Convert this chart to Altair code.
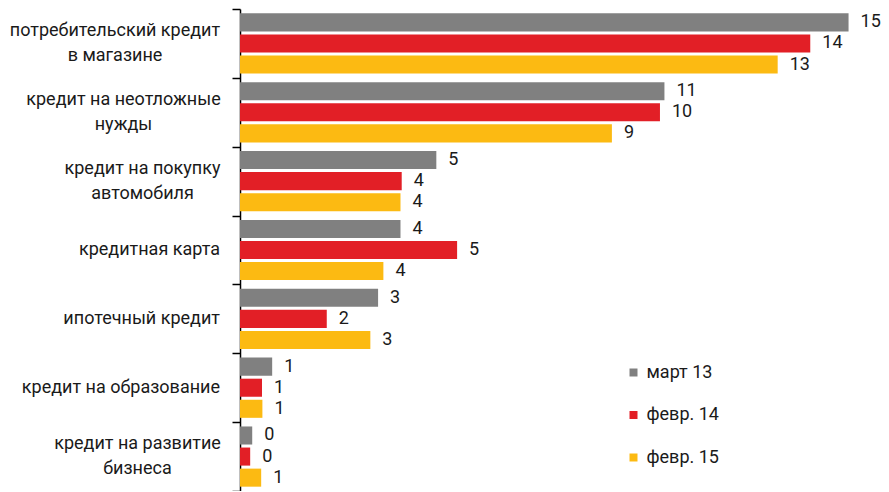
import altair as alt
import pandas as pd

categories = [
    "потребительский кредит|в магазине",
    "кредит на неотложные|нужды",
    "кредит на покупку|автомобиля",
    "кредитная карта",
    "ипотечный кредит",
    "кредит на образование",
    "кредит на развитие|бизнеса",
]
series = ["март 13", "февр. 14", "февр. 15"]
colors = ["#808080", "#e21f26", "#fcba12"]

mar13 = [14.94, 10.42, 4.82, 3.94, 3.39, 0.79, 0.30]
feb14 = [14.00, 10.31, 3.97, 5.33, 2.13, 0.54, 0.25]
feb15 = [13.20, 9.13, 3.94, 3.52, 3.20, 0.55, 0.52]

mar13_labels = ["15", "11", "5", "4", "3", "1", "0"]
feb14_labels = ["14", "10", "4", "5", "2", "1", "0"]
feb15_labels = ["13", "9", "4", "4", "3", "1", "1"]

rows = []
for s, vals, labs in zip(series, [mar13, feb14, feb15], [mar13_labels, feb14_labels, feb15_labels]):
    for c, v, l in zip(categories, vals, labs):
        rows.append({"category": c, "series": s, "value": v, "label": l})
df = pd.DataFrame(rows)
cat_df = pd.DataFrame({"category": categories})

FONT = "Roboto"
TEXT_COLOR = "#1a1a1a"

# styling: two-line category labels are centred on their longest line,
# whose right edge lines up with the single-line labels
LABEL_GAP = 20
half_longest = {0: 105, 1: 96.5, 2: 77.5, 6: 82.5}
dx_expr = ""
for i, h in half_longest.items():
    dx_expr += f"datum.category == '{categories[i]}' ? {-(LABEL_GAP + h)} : "
dx_expr += f"{-LABEL_GAP}"
is_multi = "indexof(datum.category, '|') >= 0"

y_scale = alt.Scale(domain=categories, paddingInner=0, paddingOuter=0)

y_enc = alt.Y(
    "category:N",
    sort=categories,
    scale=y_scale,
    axis=alt.Axis(
        title=None,
        labels=False,
        domainColor="black",
        domainWidth=1.5,
        tickColor="black",
        tickWidth=1.5,
        tickSize=8,
        tickBand="extent",
    ),
)
yoff_enc = alt.YOffset(
    "series:N",
    sort=series,
    scale=alt.Scale(paddingInner=0.143, paddingOuter=0.205),
)
x_enc = alt.X("value:Q", scale=alt.Scale(domain=[0, 15], nice=False), axis=None)

bars = alt.Chart(df).mark_bar().encode(
    y=y_enc,
    yOffset=yoff_enc,
    x=x_enc,
    color=alt.Color(
        "series:N",
        sort=series,
        scale=alt.Scale(domain=series, range=colors),
        legend=alt.Legend(
            title=None,
            orient="none",
            legendX=384.5,
            legendY=354.5,
            symbolType="square",
            symbolSize=64,
            symbolStrokeWidth=0,
            labelFont=FONT,
            labelFontSize=18,
            labelColor=TEXT_COLOR,
            labelOffset=4,
            rowPadding=24.5,
            padding=0,
        ),
    ),
)

values_text = alt.Chart(df).mark_text(
    align="left", baseline="middle", dx=12, font=FONT, fontSize=18, color=TEXT_COLOR
).encode(
    y=alt.Y("category:N", sort=categories),
    yOffset=alt.YOffset("series:N", sort=series),
    x=alt.X("value:Q"),
    text="label:N",
)

cat_text = alt.Chart(cat_df).mark_text(
    baseline="middle",
    font=FONT,
    fontSize=18,
    color=TEXT_COLOR,
    lineBreak="|",
    lineHeight=25,
    align=alt.ExprRef(expr=f"{is_multi} ? 'center' : 'right'"),
    dx=alt.ExprRef(expr=dx_expr),
    dy=alt.ExprRef(expr=f"{is_multi} ? -12.5 : 0"),
).encode(
    y=alt.Y("category:N", sort=categories),
    x=alt.value(0),
    text="category:N",
)

chart = (
    alt.layer(bars, values_text, cat_text)
    .properties(
        width=611,
        height=482,
        autosize=alt.AutoSizeParams(type="none"),
        padding={"left": 232, "top": 1, "right": 30, "bottom": 0},
        background="white",
    )
    .configure_view(stroke=None)
)

chart.save("out.html", embed_options={"renderer": "svg", "actions": False})
